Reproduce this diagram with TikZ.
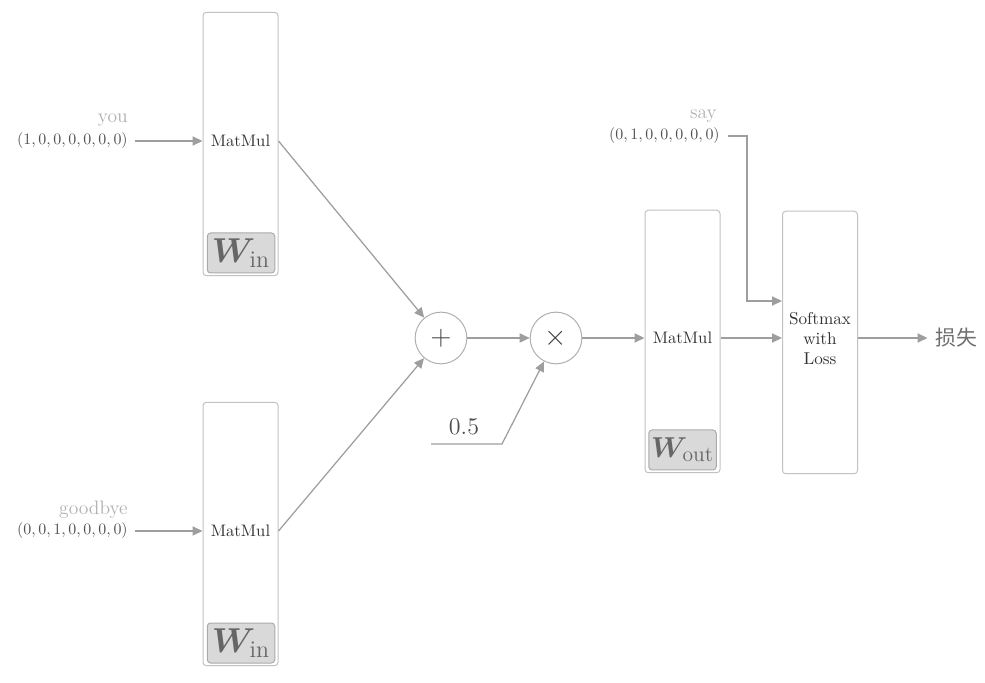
\documentclass[tikz,border=0pt]{standalone}
\usepackage{fontspec}
\usepackage{bm}
\usepackage{graphicx}
\usetikzlibrary{arrows.meta}
\newfontfamily\cjk{Noto Sans CJK SC}
\definecolor{linegray}{HTML}{9E9E9E}
\definecolor{boxgray}{HTML}{C2C2C2}
\definecolor{lightlabel}{HTML}{B0B0B0}
\definecolor{vecgray}{HTML}{505050}
\definecolor{losstext}{HTML}{6E6E6E}
\definecolor{wfill}{HTML}{D9D9D9}
\definecolor{wborder}{HTML}{ABABAB}
\definecolor{wtext}{HTML}{666666}
\newcommand{\onehot}[1]{\scalebox{0.955}{$(#1)$}}
\tikzset{
  flow/.style={draw=linegray, line width=0.75pt, -{Triangle[length=6pt,width=5.5pt]}},
  layerbox/.style={draw=boxgray, line width=0.6pt, rounded corners=2pt,
    minimum width=45pt, minimum height=158pt, inner sep=0pt},
  wbox/.style={draw=wborder, fill=wfill, line width=0.6pt, rounded corners=2pt,
    minimum width=40.5pt, minimum height=24pt, inner sep=0pt, text=wtext},
  optext/.style={text=black!80, font=\fontsize{10}{11}\selectfont, inner sep=1pt},
  vec/.style={text=vecgray, anchor=east, inner sep=0pt, font=\fontsize{10}{11}\selectfont},
  word/.style={text=lightlabel, anchor=east, inner sep=0pt, font=\fontsize{11.7}{12}\selectfont},
  opcircle/.style={circle, draw=boxgray!90!black, line width=0.6pt, minimum size=31pt, inner sep=0pt, text=black!75},
}
\begin{document}
\begin{tikzpicture}[x=0.6pt, y=-0.6pt]
\useasboundingbox (0,0) rectangle (985,683);

% input-side MatMul layers
\node[layerbox] (L1) at (240.5,144) {};
\node[optext] (m1) at (240.5,141) {MatMul};
\node[wbox] (w1) at (241,253) {\fontsize{20.5}{21}\selectfont$\bm{W}_{\mathrm{in}}$};

\node[layerbox] (L2) at (240.5,534) {};
\node[optext] (m2) at (240.5,531) {MatMul};
\node[wbox] (w2) at (241,643) {\fontsize{20.5}{21}\selectfont$\bm{W}_{\mathrm{in}}$};

% one-hot inputs
\node[vec] (v1) at (128,141) {\onehot{1,0,0,0,0,0,0}};
\node[word] (t1) at (128,120) {you};
\node[vec] (v2) at (128,531) {\onehot{0,0,1,0,0,0,0}};
\node[word] (t2) at (128,510) {goodbye};

\draw[flow] ([xshift=4pt]v1.east) -- (L1.west |- m1);
\draw[flow] ([xshift=4pt]v2.east) -- (L2.west |- m2);

% sum and scale
\node[opcircle] (plus) at (441,338) {\fontsize{17}{17}\selectfont$+$};
\node[opcircle] (times) at (556,338) {\fontsize{17}{17}\selectfont$\times$};

\coordinate (o1) at (L1.east |- m1);
\coordinate (o2) at (L2.east |- m2);
\draw[flow] (o1) -- (plus);
\draw[flow] (o2) -- (plus);
\draw[flow] (plus) -- (times);

\node[text=black!70, font=\fontsize{14}{14}\selectfont, inner sep=0pt] (half) at (464,427) {$0.5$};
\coordinate (h0) at (431,444);
\coordinate (h1) at (502,444);
\draw[flow] (h0) -- (h1) -- (times);

% output-side MatMul
\node[layerbox, minimum height=157.5pt] (L3) at (682.5,341.5) {};
\node[optext] (m3) at (682.5,338) {MatMul};
\node[wbox] (w3) at (682.5,450) {\fontsize{18.5}{19}\selectfont$\bm{W}_{\mathrm{out}}$};
\draw[flow] (times) -- (L3.west |- m3);

% softmax with loss
\node[layerbox, minimum height=157.5pt] (S) at (820,342.5) {};
\node[optext, align=center, font=\fontsize{10.3}{12}\selectfont] (s) at (820,339) {Softmax\\with\\Loss};
\draw[flow] (L3.east |- m3) -- (S.west |- m3);

% target label
\node[vec] (v3) at (720,136) {\onehot{0,1,0,0,0,0,0}};
\node[word] (t3) at (717,116) {say};
\coordinate (c1) at (747,136);
\coordinate (c2) at (747,301);
\draw[flow] ([xshift=4.5pt]v3.east) -- (c1) -- (c2) -- (S.west |- c2);

% loss
\node[text=losstext, anchor=west, inner sep=0pt, font=\cjk\fontsize{12.5}{13}\selectfont] (loss) at (935,338) {损失};
\draw[flow] (S.east |- m3) -- ([xshift=-4.5pt]loss.west);
\end{tikzpicture}
\end{document}
